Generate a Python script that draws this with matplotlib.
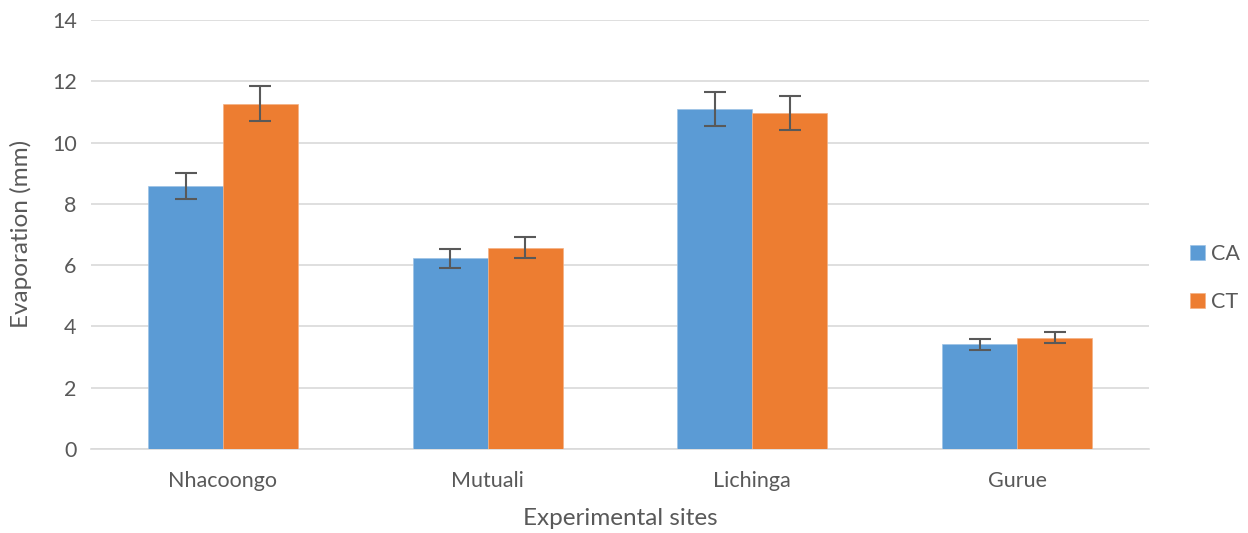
import numpy as np
import matplotlib.pyplot as plt

sites = ["Nhacoongo", "Mutuali", "Lichinga", "Gurue"]
ca_vals = [8.58, 6.22, 11.09, 3.42]
ct_vals = [11.26, 6.57, 10.97, 3.62]
ca_err = [0.43, 0.31, 0.55, 0.18]
ct_err = [0.57, 0.33, 0.55, 0.18]

plt.rcParams['font.family'] = ['Lato', 'DejaVu Sans']

fig = plt.figure(figsize=(12.48, 5.33), dpi=100)
ax = fig.add_axes([0.0726, 0.158, 0.8484, 0.8045])

x = np.arange(len(sites))
w = 0.283
err_style = dict(ecolor="#595959", elinewidth=1.5, capsize=8, capthick=1.5)

ax.bar(x - w / 2, ca_vals, w, yerr=ca_err, color="#5B9BD5", label="CA",
       edgecolor="#9DC3E6", linewidth=0.5, error_kw=err_style, zorder=3)
ax.bar(x + w / 2, ct_vals, w, yerr=ct_err, color="#ED7D31", label="CT",
       edgecolor="#F4B183", linewidth=0.5, error_kw=err_style, zorder=3)

ax.set_xlim(-0.5, len(sites) - 0.5)
ax.set_ylim(0, 14)
ax.set_yticks(np.arange(0, 15, 2))
ax.set_xticks(x)
ax.set_xticklabels(sites)

ax.grid(axis="y", color="#D9D9D9", linewidth=1.2, zorder=0)
for s in ["top", "right", "left"]:
    ax.spines[s].set_visible(False)
ax.spines["bottom"].set_color("#D9D9D9")
ax.spines["bottom"].set_linewidth(1.2)

ax.tick_params(axis="both", length=0, labelsize=15.5, colors="#595959")
ax.tick_params(axis="x", pad=16)
ax.tick_params(axis="y", pad=10)

ax.set_xlabel("Experimental sites", fontsize=17.5, color="#595959", labelpad=12)
ax.set_ylabel("Evaporation (mm)", fontsize=17.5, color="#595959", labelpad=14)

ax.legend(loc="center left", bbox_to_anchor=(1.02, 0.398), frameon=False,
          fontsize=15.5, labelcolor="#595959", handlelength=0.7, handleheight=0.7,
          labelspacing=1.3, handletextpad=0.3)

plt.savefig("out.png", dpi=100)
